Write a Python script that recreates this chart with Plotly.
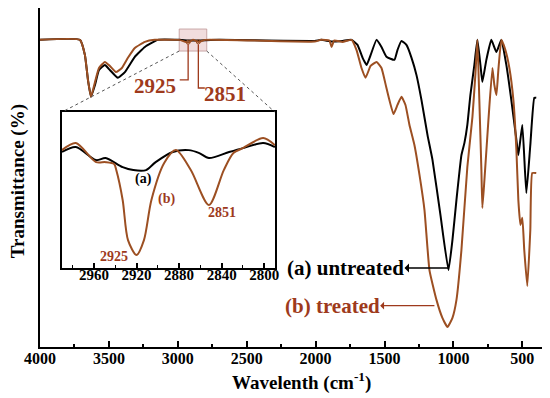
import plotly.graph_objects as go

# ---------------- data ----------------
# main spectrum (a) untreated
wn_a = [4000, 3710, 3674, 3652, 3630, 3601, 3572, 3529, 3493, 3435, 3384, 3312, 3239, 3145,
        2990, 2925, 2851, 2700, 2007, 1960, 1884, 1804, 1739, 1696, 1659, 1630, 1601, 1558,
        1522, 1486, 1428, 1406, 1377, 1341, 1304, 1268, 1232, 1188, 1152, 1094, 1036, 1007,
        978, 942, 920, 899, 877, 848, 826, 804, 790, 761, 725, 688, 652, 616, 580, 543, 529,
        500, 471, 442, 413, 399]
T_a = [90.6, 90.6, 86.1, 78.8, 73.8, 77.3, 81.7, 83.2, 81.7, 79.4, 81.1, 85.6, 88.5, 90.6,
       90.6, 90.4, 90.4, 90.6, 90.3, 90.6, 90.1, 90.3, 90.6, 89.1, 85.3, 83.2, 86.1, 90.6,
       88.5, 85.6, 84.7, 87.6, 90.3, 89.1, 85.3, 80.2, 72.9, 62.5, 55.2, 38.9, 22.7, 31.6,
       43.4, 56.6, 60.2, 65.5, 74.3, 83.2, 90.6, 83.2, 78.2, 84.7, 90.6, 87.0, 90.6, 83.2,
       72.9, 61.1, 56.6, 65.5, 45.4, 59.6, 73.5, 73.5]

# main spectrum (b) treated
wn_b = [4000, 3710, 3674, 3652, 3630, 3601, 3572, 3529, 3493, 3449, 3406, 3362, 3312, 3239,
        3167, 2990, 2925, 2890, 2851, 2800, 2007, 1960, 1900, 1884, 1866, 1804, 1739, 1703,
        1667, 1638, 1601, 1558, 1522, 1486, 1435, 1406, 1377, 1348, 1319, 1283, 1246, 1210,
        1174, 1123, 1080, 1043, 1007, 978, 942, 899, 862, 841, 826, 812, 797, 790, 775, 746,
        717, 703, 688, 674, 652, 623, 594, 565, 543, 529, 514, 500, 486, 464, 442, 428, 399]
T_b = [90.6, 90.6, 86.1, 78.8, 73.8, 78.2, 82.3, 84.1, 82.9, 81.1, 82.3, 85.3, 88.2, 90.0,
       90.6, 90.6, 89.8, 90.6, 90.0, 90.6, 90.1, 90.6, 90.4, 88.5, 90.4, 90.0, 90.6, 87.6,
       82.3, 79.4, 82.9, 84.1, 82.3, 76.4, 68.7, 71.4, 73.8, 71.4, 65.5, 59.6, 50.7, 40.4,
       22.7, 13.9, 8.6, 5.9, 8.6, 13.9, 28.6, 53.1, 67.9, 80.2, 90.6, 72.9, 52.2, 41.0,
       49.3, 67.0, 82.3, 77.3, 74.3, 81.7, 90.6, 87.6, 82.3, 72.9, 58.1, 43.4, 36.0, 38.1,
       28.6, 18.0, 34.5, 51.3, 51.3]

# inset (2990-2790 cm-1)
wn_ia = [2990, 2977, 2958, 2949, 2933, 2923, 2911, 2902, 2886, 2871, 2861, 2852, 2833, 2820, 2801, 2790]
T_ia = [74.4, 77.6, 69.2, 70.5, 64.7, 62.8, 62.8, 67.9, 74.4, 75.6, 73.7, 70.5, 74.4, 76.9, 80.1, 77.6]
wn_ib = [2990, 2977, 2958, 2949, 2941, 2939, 2933, 2928, 2920, 2913, 2906, 2894, 2883, 2869,
         2852, 2838, 2829, 2820, 2801, 2790]
T_ib = [75.6, 80.1, 67.9, 67.9, 66.7, 62.8, 43.6, 17.9, 8.3, 17.9, 43.6, 67.3, 75.6, 62.8,
        40.4, 62.8, 73.7, 76.9, 83.3, 78.8]

main_ticks = [4000, 3500, 3000, 2500, 2000, 1500, 1000, 500]
inset_ticks = [2960, 2920, 2880, 2840, 2800]
peaks = [2925, 2851]

# ---------------- styling ----------------
FONT = "Liberation Serif"
BLACK = "#000000"
BROWN = "#9C4F22"
TXT_B = "#9E3A1C"

X_RANGE = [4000, 350]
Y_RANGE = [0, 100]
IX_RANGE = [2990, 2790]
IY_RANGE = [0, 100]
INSET_X = [0.0437, 0.467]
INSET_Y = [0.233, 0.693]

fig = go.Figure()

fig.add_trace(go.Scatter(x=wn_a, y=T_a, mode="lines", line=dict(color=BLACK, width=2, shape="spline", smoothing=0.4),
                         showlegend=False, hoverinfo="skip"))
fig.add_trace(go.Scatter(x=wn_b, y=T_b, mode="lines", line=dict(color=BROWN, width=2, shape="spline", smoothing=0.4),
                         showlegend=False, hoverinfo="skip"))
# inset
fig.add_trace(go.Scatter(x=wn_ia, y=T_ia, mode="lines", xaxis="x2", yaxis="y2",
                         line=dict(color=BLACK, width=2, shape="spline", smoothing=0.8),
                         showlegend=False, hoverinfo="skip"))
fig.add_trace(go.Scatter(x=wn_ib, y=T_ib, mode="lines", xaxis="x2", yaxis="y2",
                         line=dict(color=BROWN, width=2, shape="spline", smoothing=0.8),
                         showlegend=False, hoverinfo="skip"))
# small markers on the main curve at the two peaks
fig.add_trace(go.Scatter(x=peaks, y=[89.9, 90.0], mode="markers",
                         marker=dict(symbol="circle-open", size=4, color=BROWN, line=dict(width=1)),
                         showlegend=False, hoverinfo="skip"))


def px(wn):
    return (X_RANGE[0] - wn) / (X_RANGE[0] - X_RANGE[1])


def py(v):
    return (v - Y_RANGE[0]) / (Y_RANGE[1] - Y_RANGE[0])


shapes = []
# zoom rectangle
shapes.append(dict(type="rect", xref="x", yref="y", x0=2990, x1=2790, y0=87.3, y1=93.8,
                   fillcolor="rgba(225,180,180,0.45)", line=dict(color="rgba(190,150,150,0.8)", width=1),
                   layer="below"))
# dashed connectors
shapes.append(dict(type="line", xref="paper", yref="paper", x0=px(2990), y0=py(87.3),
                   x1=INSET_X[0], y1=INSET_Y[1], line=dict(color="#555555", width=1, dash="dot")))
shapes.append(dict(type="line", xref="paper", yref="paper", x0=px(2790), y0=py(87.3),
                   x1=INSET_X[1], y1=INSET_Y[1], line=dict(color="#555555", width=1, dash="dot")))
# leader lines for peak labels
shapes.append(dict(type="path", xref="x", yref="y", path="M 2925,89.3 L 2925,78.8 L 2986,78.8",
                   line=dict(color=TXT_B, width=1.3)))
shapes.append(dict(type="path", xref="x", yref="y", path="M 2851,89.3 L 2851,76.4 L 2804,76.4",
                   line=dict(color=TXT_B, width=1.3)))

annotations = [
    dict(text="<b>2925</b>", x=3000, y=77.0, xref="x", yref="y", xanchor="right", yanchor="middle",
         showarrow=False, font=dict(family=FONT, size=21, color=TXT_B)),
    dict(text="<b>2851</b>", x=2826, y=74.6, xref="x", yref="y", xanchor="left", yanchor="middle",
         showarrow=False, font=dict(family=FONT, size=21, color=TXT_B)),
    # labels with arrows (head on the text side)
    dict(text="<b>(a) untreated</b>", x=1036, y=23.3, ax=1783, ay=23.3, xref="x", yref="y",
         axref="x", ayref="y", showarrow=True, arrowside="start", arrowhead=2, arrowsize=1.2,
         arrowwidth=1.5, arrowcolor=BLACK, borderpad=0,
         font=dict(family=FONT, size=21, color=BLACK)),
    dict(text="<b>(b) treated</b>", x=1138, y=12.2, ax=1880, ay=12.2, xref="x", yref="y",
         axref="x", ayref="y", showarrow=True, arrowside="start", arrowhead=2, arrowsize=1.2,
         arrowwidth=1.3, arrowcolor=TXT_B, borderpad=0,
         font=dict(family=FONT, size=21, color=TXT_B)),
    # inset labels
    dict(text="<b>(a)</b>", x=2913, y=57.0, xref="x2", yref="y2", showarrow=False,
         font=dict(family=FONT, size=14, color=BLACK)),
    dict(text="<b>(b)</b>", x=2892, y=44.2, xref="x2", yref="y2", showarrow=False,
         font=dict(family=FONT, size=14, color=TXT_B)),
    dict(text="<b>2925</b>", x=2941, y=7.7, xref="x2", yref="y2", showarrow=False,
         font=dict(family=FONT, size=14, color=TXT_B)),
    dict(text="<b>2851</b>", x=2840, y=35.9, xref="x2", yref="y2", showarrow=False,
         font=dict(family=FONT, size=14, color=TXT_B)),
    # axis titles
    dict(text="<b>Transmittance (%)</b>", x=-0.043, y=0.49, xref="paper", yref="paper", textangle=-90,
         xanchor="center", yanchor="middle",
         showarrow=False, font=dict(family=FONT, size=19, color=BLACK)),
    dict(text="<b>Wavelenth (cm<sup>-1</sup>)</b>", x=0.52, y=-0.103, xref="paper", yref="paper",
         xanchor="center", yanchor="middle",
         showarrow=False, font=dict(family=FONT, size=19, color=BLACK)),
]

fig.update_layout(
    width=542, height=390,
    margin=dict(l=32, r=7, t=0, b=51, autoexpand=False),
    paper_bgcolor="white", plot_bgcolor="white",
    shapes=shapes, annotations=annotations,
    xaxis=dict(range=X_RANGE, tickvals=main_ticks, ticks="inside", ticklen=6, tickwidth=2,
               tickcolor=BLACK, showline=True, linewidth=2, linecolor=BLACK, mirror=True,
               showgrid=False, zeroline=False, automargin=False, ticklabelstandoff=-4,
               minor=dict(dtick=250, tick0=0, ticks="inside", ticklen=3, tickwidth=1.5, tickcolor=BLACK),
               tickfont=dict(family=FONT, size=16, color=BLACK, weight="bold")),
    yaxis=dict(range=Y_RANGE, showticklabels=False, ticks="", showline=True, linewidth=2,
               linecolor=BLACK, mirror=True, showgrid=False, zeroline=False, automargin=False),
    xaxis2=dict(domain=INSET_X, anchor="y2", range=IX_RANGE, tickvals=inset_ticks, ticks="inside",
                ticklen=5, tickwidth=1.5, tickcolor=BLACK, showline=True, linewidth=1.5,
                linecolor=BLACK, mirror=True, showgrid=False, zeroline=False, automargin=False,
                ticklabelstandoff=-8,
                minor=dict(dtick=20, tick0=0, ticks="inside", ticklen=3, tickwidth=1, tickcolor=BLACK),
                tickfont=dict(family=FONT, size=15, color=BLACK, weight="bold")),
    yaxis2=dict(domain=INSET_Y, anchor="x2", range=IY_RANGE, showticklabels=False, ticks="",
                showline=True, linewidth=1.5, linecolor=BLACK, mirror=True, showgrid=False,
                zeroline=False, automargin=False),
)

fig.write_html("out.html")
